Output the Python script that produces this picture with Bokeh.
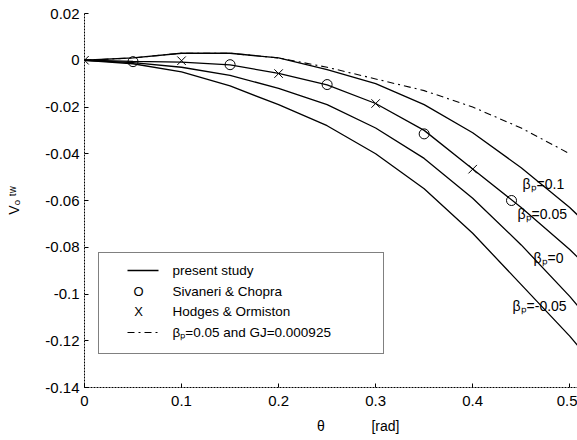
from bokeh.plotting import figure
from bokeh.models import FixedTicker, Label, Range1d
from bokeh.embed import file_html
from bokeh.resources import INLINE

# --- data -------------------------------------------------------------
theta = [0.0, 0.05, 0.10, 0.15, 0.20, 0.25, 0.30, 0.35, 0.40, 0.45, 0.50, 0.51]
v_beta_p010 = [0.0, 0.001, 0.003, 0.003, 0.001, -0.004, -0.010, -0.019, -0.031, -0.046, -0.063, -0.067]
v_beta_p005 = [0.0, -0.0005, -0.0008, -0.002, -0.0056, -0.0105, -0.0185, -0.030, -0.0465, -0.063, -0.081, -0.085]
v_beta_p000 = [0.0, -0.001, -0.003, -0.0065, -0.012, -0.019, -0.029, -0.042, -0.059, -0.079, -0.101, -0.106]
v_beta_m005 = [0.0, -0.0015, -0.005, -0.011, -0.019, -0.028, -0.040, -0.055, -0.074, -0.096, -0.118, -0.123]

theta_gj = [0.0, 0.05, 0.10, 0.15, 0.20, 0.25, 0.30, 0.35, 0.40, 0.45, 0.50]
v_gj = [0.0, 0.001, 0.003, 0.003, 0.001, -0.003, -0.008, -0.013, -0.020, -0.029, -0.040]

sivaneri_theta = [0.05, 0.15, 0.25, 0.35, 0.44]
sivaneri_v = [-0.0006, -0.0019, -0.0104, -0.0315, -0.0600]

hodges_theta = [0.0, 0.10, 0.20, 0.30, 0.40]
hodges_v = [0.0, -0.0002, -0.0057, -0.0185, -0.0466]

x_ticks = [0, 0.1, 0.2, 0.3, 0.4, 0.5]
x_tick_labels = ["0", "0.1", "0.2", "0.3", "0.4", "0.5"]
y_ticks = [0.02, 0, -0.02, -0.04, -0.06, -0.08, -0.1, -0.12, -0.14]
y_tick_labels = ["0.02", "0", "-0.02", "-0.04", "-0.06", "-0.08", "-0.1", "-0.12", "-0.14"]

curve_labels = ["βₚ=0.1", "βₚ=0.05", "βₚ=0", "βₚ=-0.05"]
legend_labels = ["present study", "Sivaneri & Chopra", "Hodges & Ormiston",
                 "βₚ=0.05 and GJ=0.000925"]

NBSP = "\u00a0"
x_title = NBSP * 14 + "θ" + NBSP * 12 + "[rad]"
y_title = "Vₒ ᵗʷ"

# --- layout -----------------------------------------------------------
W, H = 577, 440
FL, FT, FB = 84, 13, 387          # frame left / top / bottom (px)
X0, X1 = 0.0, 0.508
Y0, Y1 = -0.14, 0.02
FONT = "Liberation Sans"

def dx(px):
    return X0 + (px - FL) * (X1 - X0) / (W - FL)

def dy(py):
    return Y1 - (py - FT) * (Y1 - Y0) / (FB - FT)

p = figure(width=W, height=H, x_range=Range1d(X0, X1), y_range=Range1d(Y0, Y1),
           output_backend="svg", toolbar_location=None,
           min_border_left=FL, min_border_right=0, min_border_top=FT,
           min_border_bottom=H - FB)
p.outline_line_color = None
p.grid.visible = False
p.background_fill_color = "white"
p.border_fill_color = "white"

for ax in (p.xaxis[0], p.yaxis[0]):
    ax.axis_line_color = "black"
    ax.axis_line_dash = "2 1"
    ax.major_tick_in = 4
    ax.major_tick_out = 0
    ax.minor_tick_line_color = None
    ax.major_tick_line_color = "black"
    ax.major_label_text_font = FONT
    ax.major_label_text_font_size = "15px"
    ax.major_label_text_color = "black"
    ax.axis_label_text_font = FONT
    ax.axis_label_text_font_style = "normal"
    ax.axis_label_text_font_size = "14px"
    ax.axis_label_text_color = "black"

p.xaxis.ticker = FixedTicker(ticks=x_ticks)
p.xaxis.major_label_overrides = dict(zip(x_ticks, x_tick_labels))
p.xaxis.major_label_standoff = 8
p.xaxis.axis_label = x_title
p.xaxis.axis_label_standoff = 9

p.yaxis.ticker = FixedTicker(ticks=y_ticks)
p.yaxis.major_label_overrides = dict(zip(y_ticks, y_tick_labels))
p.yaxis.major_label_standoff = 5
p.yaxis.axis_label = y_title
p.yaxis.axis_label_standoff = 20

# --- curves -----------------------------------------------------------
for vals in (v_beta_p010, v_beta_p005, v_beta_p000, v_beta_m005):
    p.line(theta, vals, line_color="black", line_width=1.3)
p.line(theta_gj, v_gj, line_color="black", line_width=1.1, line_dash="7 4 2 4")

p.scatter(sivaneri_theta, sivaneri_v, marker="circle", size=10,
          fill_color=None, line_color="black", line_width=1)
p.scatter(hodges_theta, hodges_v, marker="x", size=12,
          line_color="black", line_width=1)

# curve annotations (left edge px, centre px)
for txt, (lx, ly) in zip(curve_labels, [(522, 183), (517, 213), (533, 257), (512, 305)]):
    p.add_layout(Label(x=dx(lx), y=dy(ly), text=txt, text_font=FONT,
                       text_font_size="14px", text_baseline="middle",
                       text_color="black"))

# --- legend box -------------------------------------------------------
p.quad(left=[dx(98)], right=[dx(383)], top=[dy(252)], bottom=[dy(353)],
       fill_color="white", line_color="black", line_width=1, line_dash="1 1")
rows = [270, 291, 311, 332]
p.line([dx(127), dx(158)], [dy(rows[0])] * 2, line_color="black", line_width=1.3)
p.line([dx(127), dx(158)], [dy(rows[3])] * 2, line_color="black", line_width=1.1,
       line_dash="7 4 2 4")
for sym, r in (("O", rows[1]), ("X", rows[2])):
    p.add_layout(Label(x=dx(138), y=dy(r), text=sym, text_font=FONT,
                       text_font_size="13px", text_align="center",
                       text_baseline="middle", text_color="black"))
for txt, r in zip(legend_labels, rows):
    p.add_layout(Label(x=dx(172), y=dy(r), text=txt, text_font=FONT,
                       text_font_size="13.5px", text_baseline="middle",
                       text_color="black"))

open("out.html", "w").write(file_html(p, INLINE))
